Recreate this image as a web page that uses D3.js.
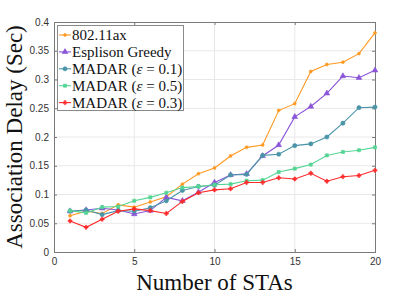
<!DOCTYPE html>
<html><head><meta charset="utf-8">
<script src="https://cdn.jsdelivr.net/npm/d3@7"></script>
<style>body{margin:0;background:#fff}svg{display:block}</style>
</head><body>
<svg id="c" width="415" height="295"></svg>
<script>
const stas = [1,2,3,4,5,6,7,8,9,10,11,12,13,14,15,16,17,18,19,20];
const ax80211 = [0.063,0.071,0.067,0.082,0.078,0.087,0.096,0.118,0.136,0.146,0.167,0.182,0.186,0.246,0.258,0.314,0.326,0.330,0.345,0.381];
const greedy = [0.071,0.073,0.076,0.073,0.066,0.072,0.095,0.089,0.104,0.121,0.134,0.136,0.167,0.186,0.235,0.253,0.276,0.306,0.303,0.316];
const madar01 = [0.071,0.073,0.065,0.072,0.071,0.077,0.089,0.107,0.114,0.116,0.134,0.135,0.168,0.170,0.185,0.188,0.200,0.224,0.251,0.252];
const madar05 = [0.072,0.068,0.078,0.079,0.089,0.095,0.103,0.112,0.114,0.117,0.118,0.124,0.125,0.139,0.145,0.152,0.168,0.174,0.177,0.182];
const madar03 = [0.054,0.043,0.057,0.071,0.075,0.072,0.067,0.088,0.103,0.108,0.110,0.121,0.121,0.129,0.127,0.137,0.123,0.131,0.133,0.142];
const xTicks = [0,5,10,15,20];
const yTicks = [0,0.05,0.1,0.15,0.2,0.25,0.3,0.35,0.4];
const seriesNames = ["802.11ax","Esplison Greedy","MADAR (ε = 0.1)","MADAR (ε = 0.5)","MADAR (ε = 0.3)"];
const seriesColors = ["#ff9922","#8a55d8","#4a94a8","#55d595","#ff2a2a"];
const seriesMarkers = ["dot","triangle","circle","square","plus"];

const series = [ax80211, greedy, madar01, madar05, madar03].map((v,i)=>({
  name: seriesNames[i], color: seriesColors[i], marker: seriesMarkers[i], values: v
}));

const svg = d3.select("#c");
const L=54, R=375, T=22, B=252;
const x = d3.scaleLinear().domain([0,20]).range([L,R]);
const y = d3.scaleLinear().domain([0,0.4]).range([B,T]);

// grid
const g = svg.append("g");
g.selectAll(".gx").data(xTicks.slice(1,-1)).join("line")
  .attr("x1",d=>x(d)).attr("x2",d=>x(d)).attr("y1",T).attr("y2",B)
  .attr("stroke","#e8e8e8").attr("stroke-width",1);
g.selectAll(".gy").data(yTicks.slice(1,-1)).join("line")
  .attr("y1",d=>y(d)).attr("y2",d=>y(d)).attr("x1",L).attr("x2",R)
  .attr("stroke","#e8e8e8").attr("stroke-width",1);

// axes
const axColor="#7a7a7a";
const fmtY = d=> d===0?"0":String(+d.toFixed(2));
const xb = svg.append("g").attr("transform",`translate(0,${B})`)
  .call(d3.axisBottom(x).tickValues(xTicks).tickSize(-3).tickPadding(6).tickFormat(d3.format("d")));
const xt = svg.append("g").attr("transform",`translate(0,${T})`)
  .call(d3.axisTop(x).tickValues(xTicks).tickSize(-3).tickFormat(""));
const yl = svg.append("g").attr("transform",`translate(${L},0)`)
  .call(d3.axisLeft(y).tickValues(yTicks).tickSize(-3).tickPadding(5).tickFormat(fmtY));
const yr = svg.append("g").attr("transform",`translate(${R},0)`)
  .call(d3.axisRight(y).tickValues(yTicks).tickSize(-3).tickFormat(""));
[xb,xt,yl,yr].forEach(a=>{
  a.selectAll("path").attr("stroke",axColor).attr("stroke-width",1);
  a.selectAll("line").attr("stroke",axColor);
  a.selectAll("text").attr("fill","#333").attr("font-family","Liberation Sans, Arial, sans-serif").attr("font-size","10px");
});

// lines
const line = d3.line().x((d,i)=>x(stas[i])).y(d=>y(d));
const sym = {
  dot: d3.symbol().type(d3.symbolCircle).size(7),
  triangle: d3.symbol().type(d3.symbolTriangle).size(14),
  circle: d3.symbol().type(d3.symbolCircle).size(14),
  square: d3.symbol().type(d3.symbolSquare).size(10),
  plus: d3.symbol().type(d3.symbolCross).size(9)
};
series.forEach(s=>{
  svg.append("path").datum(s.values).attr("d",line).attr("fill","none")
    .attr("stroke",s.color).attr("stroke-width",1.1);
  svg.append("g").selectAll("path").data(s.values).join("path")
    .attr("transform",(d,i)=>`translate(${x(stas[i])},${y(d)})`)
    .attr("d",sym[s.marker]()).attr("fill",s.color).attr("stroke",s.color).attr("stroke-width",0.6);
});

// legend
const lg = svg.append("g");
lg.append("rect").attr("x",57.5).attr("y",25.5).attr("width",126).attr("height",85)
  .attr("fill","#fff").attr("stroke","#8a8a8a").attr("stroke-width",1);
series.forEach((s,i)=>{
  const yy = 35 + i*16.9;
  lg.append("line").attr("x1",59).attr("x2",71).attr("y1",yy).attr("y2",yy)
    .attr("stroke",s.color).attr("stroke-width",1.1);
  lg.append("path").attr("transform",`translate(65,${yy})`).attr("d",sym[s.marker]())
    .attr("fill",s.color).attr("stroke",s.color).attr("stroke-width",0.6);
  const t = lg.append("text").attr("x",72).attr("y",yy+5)
    .attr("font-family","Liberation Serif, Times New Roman, serif").attr("font-size","15px").attr("fill","#111");
  const m = s.name.match(/^(.*\()ε( = .*)$/);
  if(m){
    t.append("tspan").text(m[1]);
    t.append("tspan").attr("font-style","italic").text("ε");
    t.append("tspan").text(m[2]);
  } else t.text(s.name);
});

// axis labels
svg.append("text").attr("x",(L+R)/2).attr("y",290).attr("text-anchor","middle")
  .attr("font-family","Liberation Serif, Times New Roman, serif").attr("font-size","23px").attr("fill","#111")
  .text("Number of STAs");
svg.append("text").attr("transform",`translate(22,${(T+B)/2}) rotate(-90)`).attr("text-anchor","middle")
  .attr("font-family","Liberation Serif, Times New Roman, serif").attr("font-size","23px").attr("fill","#111")
  .text("Association Delay (Sec)");
</script>
</body></html>
